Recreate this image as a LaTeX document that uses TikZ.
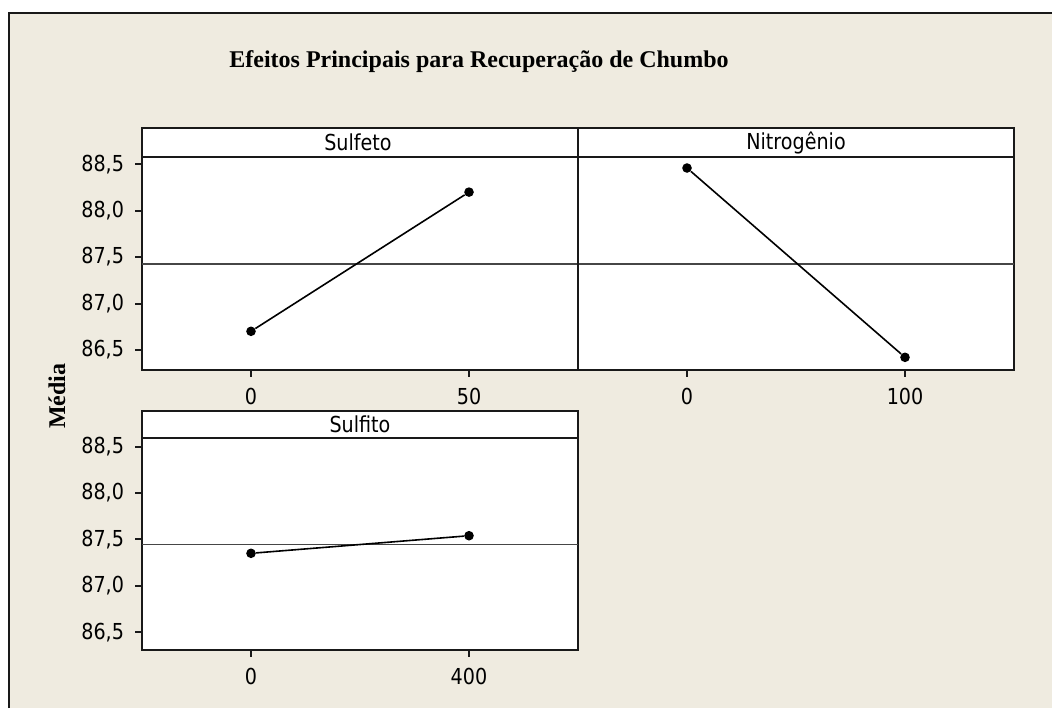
\documentclass[tikz,border=0pt]{standalone}
\usepackage{fontspec}
\setmainfont{Liberation Serif}
\newfontfamily\tahoma[FakeStretch=0.87]{DejaVu Sans}
\usetikzlibrary{positioning,shapes}
\definecolor{paper}{RGB}{239,235,224}
\definecolor{frame}{RGB}{25,25,25}
\definecolor{mean}{RGB}{70,70,70}
\tikzstyle{P} = [draw=frame, fill=white, line width=1pt]
\tikzstyle{H} = [font=\tahoma\fontsize{11}{13}\selectfont,
			inner sep=0pt]
\tikzstyle{D} = [circle, fill=black,
			inner sep=0pt, minimum size=4.8pt]
\tikzstyle{L} = [draw, line width=0.8pt]
\tikzstyle{M} = [draw=mean, line width=0.85pt]

\begin{document}
\begin{tikzpicture}[x=0.5pt, y=-0.5pt, node distance=5pt]

\useasboundingbox (0,0) rectangle (1052,708);
\fill[white] (0,0) rectangle (1052,708);
\fill[paper] (9,13) rectangle (1052,708);
\draw[frame, line width=1pt] (9,708) -- (9,13) -- (1052,13);

\node [font=\bfseries\fontsize{12}{14}\selectfont]
(title) at (479,62)
	{Efeitos Principais para Recuperação de Chumbo};

\node [rotate=90, font=\bfseries\fontsize{12}{14}\selectfont]
(ylab) at (57,396)
	{Média};

% panels
\draw[P] (142,128) rectangle (578,370);
\draw[P] (578,128) rectangle (1014,370);
\draw[P] (142,411) rectangle (578,650);
\draw[P] (142,157) -- (1014,157);
\draw[P] (142,438) -- (578,438);

\node [H] (hsulfeto) at (358,142.5) {Sulfeto};
\node [H] (hnitro) at (796,142.5) {Nitrogênio};
\node [H] (hsulfito) at (360,424.5) {Sulfito};

% axes
\foreach \k/\t in {0/{88,5},1/{88,0},2/{87,5},3/{87,0},4/{86,5}} {
	\draw[P] (142,164.3+46.4*\k) -- ++(-7,0)
		node [H, left=of {(135,164.3+46.4*\k)}] (ya\k) {\t};
	\draw[P] (142,446.5+46.4*\k) -- ++(-7,0)
		node [H, left=of {(135,446.5+46.4*\k)}] (yb\k) {\t};
}
\foreach \x/\t/\y/\n in {251/0/370/a, 469/50/370/b, 687/0/370/c,
			905/100/370/d, 251/0/650/e, 469/400/650/f} {
	\draw[P] (\x,\y) -- ++(0,7)
		node [H, below=of {(\x,\y+7)}] (x\n) {\t};
}

% mean lines
\path[M] (142,264) -- (1014,264);
\path[M] (142,544.5) -- (578,544.5);
\draw[frame, line width=1pt] (578,157) -- (578,370);

% effects
\node [D] (s0) at (251,331.3) {};
\node [D] (s50) at (469,192.1) {};
\node [D] (n0) at (687,168) {};
\node [D] (n100) at (905,357.3) {};
\node [D] (f0) at (251,553.3) {};
\node [D] (f400) at (469,535.7) {};

\path[L] (s0) -- (s50);

\path[L] (n0) -- (n100);

\path[L] (f0) -- (f400);

\end{tikzpicture}
\end{document}
